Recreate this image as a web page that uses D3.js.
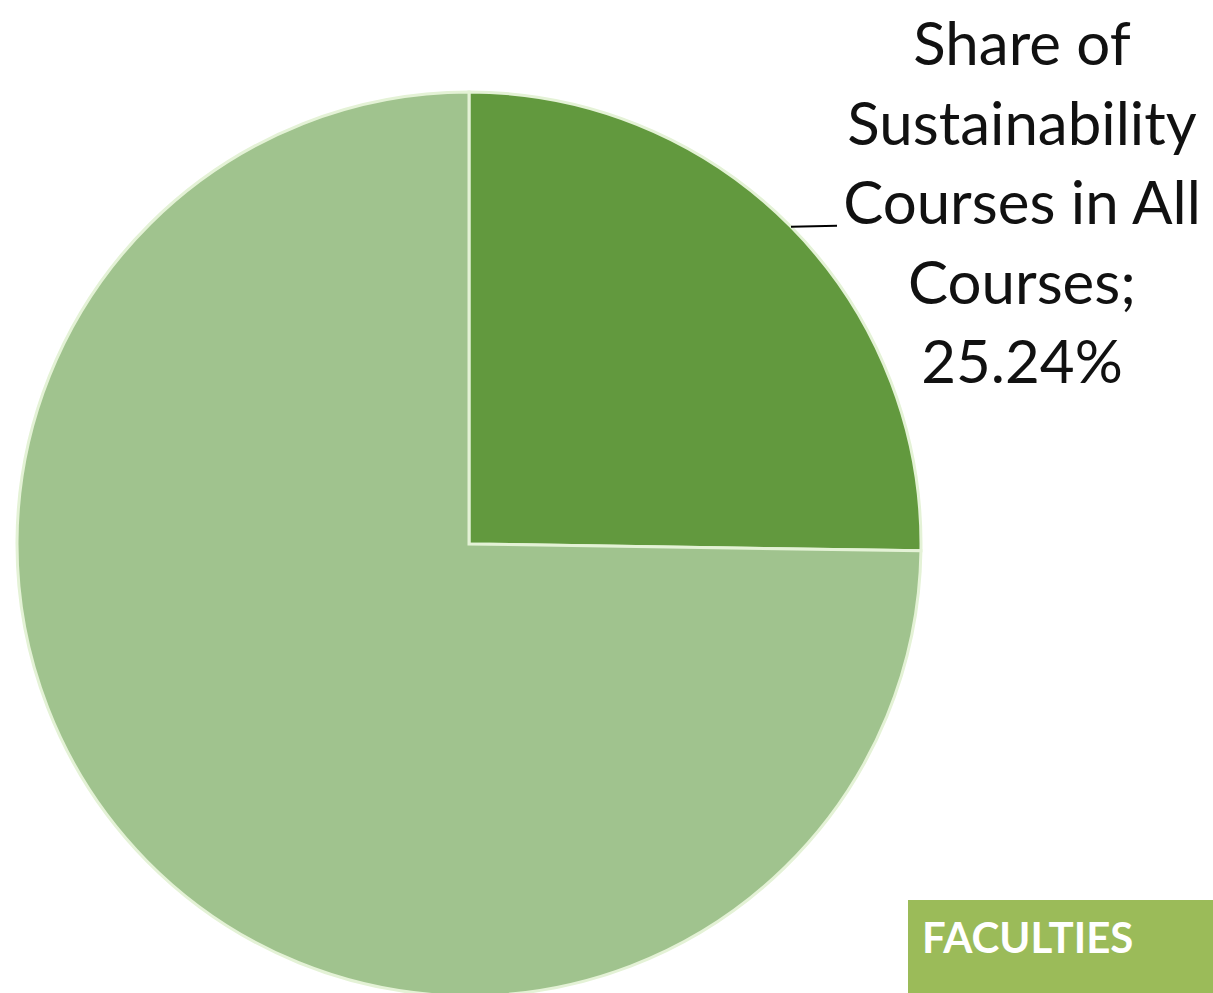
<!DOCTYPE html>
<head>
  <meta charset="utf-8">
  <script src="https://d3js.org/d3.v7.min.js"></script>
  <style>
    body { margin:0; background:#fff; }
  </style>
</head>
<body>
  <div class="pie-chart"></div>
  <script>
    // slices, clockwise from 12 o'clock
    const categories = ['Share of Sustainability Courses in All Courses', 'Other Courses'];
    const shares = [25.24, 74.76];
    const labelLines = ['Share of', 'Sustainability', 'Courses in All', 'Courses;', '25.24%'];
    const badgeText = 'FACULTIES';

    const width = 1213, height = 993;
    const center = { x: 469, y: 544 };
    const radius = 452;
    const colors = ['#62993e', '#a0c38e'];

    const svg = d3.select('.pie-chart')
      .append('svg')
        .attr('width', width)
        .attr('height', height);

    const data = categories.map((c, i) => ({ name: c, value: shares[i] }));

    const pie = d3.pie()
      .sort(null)
      .value(d => d.value);

    const arc = d3.arc()
      .innerRadius(0)
      .outerRadius(radius);

    const g = svg.append('g')
      .attr('transform', `translate(${center.x},${center.y})`);

    g.selectAll('.slice')
      .data(pie(data))
      .enter()
      .append('path')
        .attr('class', 'slice')
        .attr('d', arc)
        .style('fill', (d, i) => colors[i])
        .style('stroke', '#e4f2d6')
        .style('stroke-width', 3)
        .style('stroke-linejoin', 'miter');

    // leader line from the slice's mid edge to the label
    const first = pie(data)[0];
    const midAngle = (first.startAngle + first.endAngle) / 2;
    const ex = Math.sin(midAngle) * radius, ey = -Math.cos(midAngle) * radius;
    g.append('path')
      .attr('d', `M${ex},${ey} L${ex + 46},${ey - 1}`)
      .style('stroke', '#000')
      .style('stroke-width', 2)
      .style('fill', 'none');

    svg.append('text')
      .attr('x', 1022)
      .attr('y', 65)
      .attr('text-anchor', 'middle')
      .style('font-family', 'Lato, "Open Sans", sans-serif')
      .style('font-size', '60px')
      .style('fill', '#111')
      .selectAll('tspan')
      .data(labelLines)
      .enter()
      .append('tspan')
        .attr('x', 1022)
        .attr('dy', (d, i) => i === 0 ? 0 : 79.5)
        .text(d => d);

    svg.append('rect')
      .attr('x', 908)
      .attr('y', 900)
      .attr('width', width - 908)
      .attr('height', height - 900)
      .style('fill', '#9bbb59');

    svg.append('text')
      .attr('x', 922)
      .attr('y', 953)
      .style('font-family', 'Lato, "Open Sans", sans-serif')
      .style('font-weight', 'bold')
      .style('font-size', '42px')
      .style('fill', '#fff')
      .text(badgeText);
  </script>
</body>
</html>
